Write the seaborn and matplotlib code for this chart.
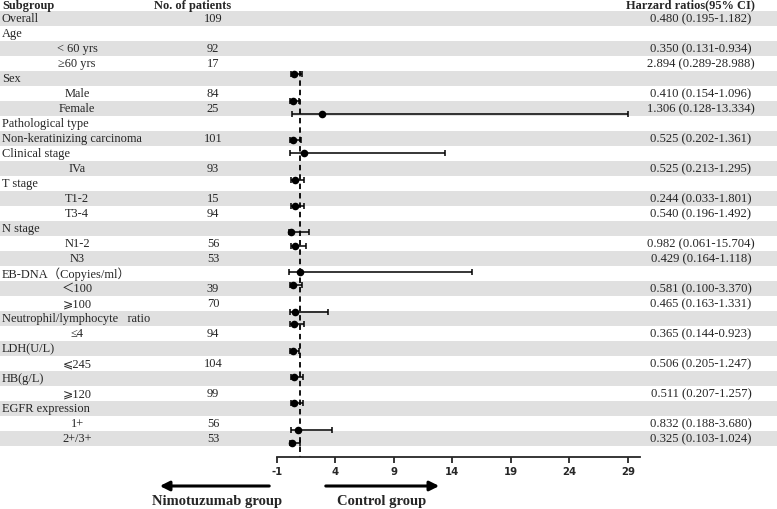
import matplotlib
matplotlib.use('Agg')
import matplotlib.pyplot as plt
import seaborn as sns
import numpy as np
import pandas as pd

# table rows (left side)
subgroups = ["Overall", "Age", "< 60 yrs", "≥60 yrs", "Sex", "Male", "Female",
             "Pathological type", "Non-keratinizing carcinoma", "Clinical stage", "IVa",
             "T stage", "T1-2", "T3-4", "N stage", "N1-2", "N3",
             "EB-DNA（Copyies/ml）", "＜100", "⩾100", "Neutrophil/lymphocyte   ratio", "≤4",
             "LDH(U/L)", "⩽245", "HB(g/L)", "⩾120", "EGFR expression", "1+", "2+/3+"]
is_header = [True, True, False, False, True, False, False,
             True, True, True, False,
             True, False, False, True, False, False,
             True, False, False, True, False,
             True, False, True, False, True, False, False]
n_patients = ["109", "", "92", "17", "", "84", "25", "", "101", "", "93", "", "15", "94",
              "", "56", "53", "", "39", "70", "", "94", "", "104", "", "99", "", "56", "53"]

# hazard ratios, rows that carry an estimate
hr_rows = [0, 2, 3, 5, 6, 8, 10, 12, 13, 15, 16, 18, 19, 21, 23, 25, 27, 28]
hr = [0.480, 0.350, 2.894, 0.410, 1.306, 0.525, 0.525, 0.244, 0.540, 0.982, 0.429,
      0.581, 0.465, 0.365, 0.506, 0.511, 0.832, 0.325]
ci_low = [0.195, 0.131, 0.289, 0.154, 0.128, 0.202, 0.213, 0.033, 0.196, 0.061, 0.164,
          0.100, 0.163, 0.144, 0.205, 0.207, 0.188, 0.103]
ci_high = [1.182, 0.934, 28.988, 1.096, 13.334, 1.361, 1.295, 1.801, 1.492, 15.704, 1.118,
           3.370, 1.331, 0.923, 1.247, 1.257, 3.680, 1.024]
xticks = [-1, 4, 9, 14, 19, 24, 29]

# the points sit slightly off the text rows in the original figure
marker_rows = [3.72, 5.5, 6.39, 8.1, 9.0, 10.79, 12.5, 14.27, 15.17, 16.94, 17.79,
               19.57, 20.41, 22.2, 23.94, 25.67, 27.43, 28.32]

df = pd.DataFrame({"hr": hr, "lo": ci_low, "hi": ci_high, "y": marker_rows})

sns.set_style("white")
plt.rcParams['font.family'] = ['Liberation Serif', 'DejaVu Sans', 'Noto Sans CJK SC']

W, H = 777, 510
row0, row_h = 19.2, 15.0
def rows_at(px):
    return (px - row0) / row_h

fig = plt.figure(figsize=(W / 100, H / 100), dpi=100)

# background axes: x in pixels, y in row units
bg = fig.add_axes([0, 0, 1, 1])
bg.set_xlim(0, W)
bg.set_ylim(rows_at(H), rows_at(0))
bg.axis('off')

for i in range(0, len(subgroups), 2):
    bg.axhspan(i - 0.5, i + 0.5, color='#e0e0e0', lw=0, zorder=0)

fs = 8.9
bg.text(2, rows_at(5.5), "Subgroup", fontsize=fs, fontweight='bold', va='center', ha='left')
bg.text(154, rows_at(5.5), "No. of patients", fontsize=fs, fontweight='bold', va='center', ha='left')
bg.text(690, rows_at(5.5), "Harzard ratios(95% CI)", fontsize=fs, fontweight='bold', va='center', ha='center')

for i, (name, head, n) in enumerate(zip(subgroups, is_header, n_patients)):
    if head:
        bg.text(2, i, name, fontsize=fs, va='center', ha='left')
    else:
        bg.text(77, i, name, fontsize=fs, va='center', ha='center')
    if n:
        bg.text(213, i, n, fontsize=fs, va='center', ha='center')

for r, h, lo, hi in zip(hr_rows, hr, ci_low, ci_high):
    bg.text(701, r, f"{h:.3f} ({lo:.3f}-{hi:.3f})", fontsize=9.1, va='center', ha='center')

# direction arrows
arr_y = rows_at(487)
bg.annotate("", xy=(157, arr_y), xytext=(272, arr_y),
            arrowprops=dict(arrowstyle='-|>', color='black', lw=2.2, mutation_scale=14))
bg.annotate("", xy=(442, arr_y), xytext=(323, arr_y),
            arrowprops=dict(arrowstyle='-|>', color='black', lw=2.2, mutation_scale=14))
bg.text(217, rows_at(502), "Nimotuzumab group", fontsize=10.5, fontweight='bold', ha='center', va='center')
bg.text(382, rows_at(502), "Control group", fontsize=10.5, fontweight='bold', ha='center', va='center')

# forest axes
x_left, x_right, axis_px = 276.7, 640.0, 457.5
px_per_unit = (628.0 - 276.7) / 30.0
ax = fig.add_axes([x_left / W, (H - axis_px) / H, (x_right - x_left) / W, axis_px / H])
ax.set_facecolor('none')
ax.set_xlim(-1, -1 + (x_right - x_left) / px_per_unit)
ax.set_ylim(rows_at(axis_px), rows_at(0))

ax.vlines(1, rows_at(72), rows_at(axis_px), colors='black', linestyles=(0, (3, 2.2)), lw=1.3)
ax.errorbar(df["hr"], df["y"], xerr=[df["hr"] - df["lo"], df["hi"] - df["hr"]],
            fmt='none', ecolor='black', elinewidth=1.1, capsize=2.3, capthick=1.1)
sns.scatterplot(data=df, x="hr", y="y", ax=ax, color='black', s=30, edgecolor='black',
                linewidth=0, zorder=3, legend=False)

sns.despine(ax=ax, left=True, top=True, right=True)
ax.spines['bottom'].set_linewidth(1.3)
ax.set_yticks([])
ax.set_xticks(xticks)
ax.set_xticklabels([str(t) for t in xticks], fontsize=7.3, fontweight='bold', family='DejaVu Sans')
ax.tick_params(axis='x', direction='out', length=4, width=1.3, pad=3, bottom=True)
ax.set_xlabel("")
ax.set_ylabel("")

fig.savefig("out.png", dpi=100, facecolor='white')
